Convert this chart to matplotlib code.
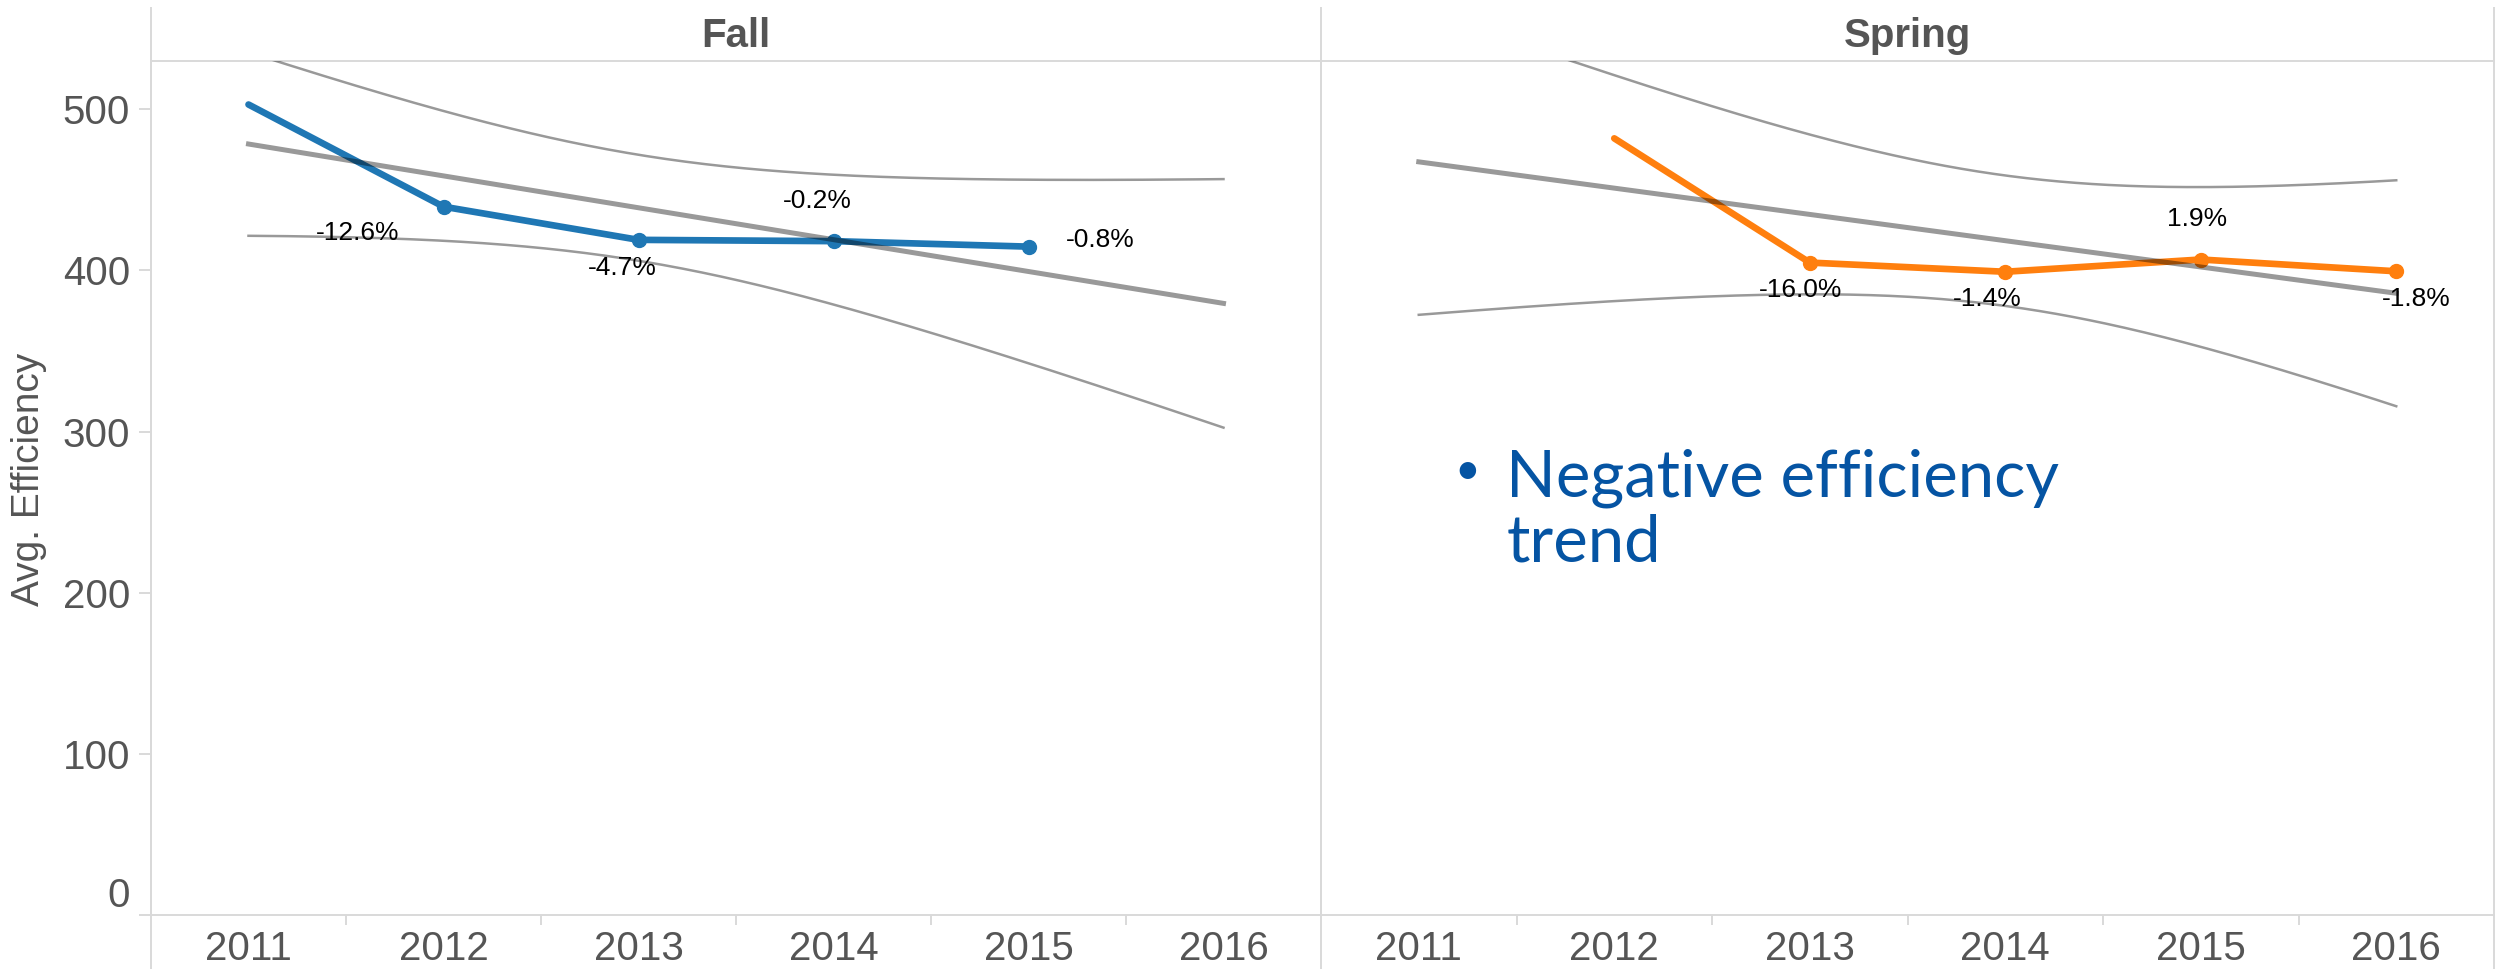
import numpy as np
import matplotlib
matplotlib.use("Agg")
import matplotlib.pyplot as plt
from matplotlib.lines import Line2D

plt.rcParams['font.family'] = ['Liberation Sans', 'DejaVu Sans']

# data
years = [2011, 2012, 2013, 2014, 2015, 2016]
fall_years = [2011, 2012, 2013, 2014, 2015]
fall_eff = [503.0, 439.6, 419.0, 418.2, 414.8]
fall_pct = ['', '-12.6%', '-4.7%', '-0.2%', '-0.8%']
spring_years = [2012, 2013, 2014, 2015, 2016]
spring_eff = [482.0, 404.9, 399.2, 406.8, 399.5]
spring_pct = ['', '-16.0%', '-1.4%', '1.9%', '-1.8%']
yticks = [0, 100, 200, 300, 400, 500]

# label placement (offset points, alignment)
fall_lab = [None, (-62, -19, 'center'), (-11.5, -20, 'center'), (-11.5, 29, 'center'), (27, 5, 'left')]
spring_lab = [None, (-6.5, -20, 'center'), (-13, -19.5, 'center'), (-3, 29.5, 'center'), (14.5, -20, 'center')]

GRID = '#d9d9d9'
TXT = '#555555'
W, H = 2501, 969


def trend_band(x, y, xs, t=3.182):
    # linear trend with 95% confidence band of the mean (n=5 -> df=3)
    x = np.asarray(x, float)
    y = np.asarray(y, float)
    xm = x.mean()
    b, a = np.polyfit(x - xm, y, 1)
    fit = a + b * (xs - xm)
    resid = y - (a + b * (x - xm))
    s = np.sqrt(np.sum(resid ** 2) / (len(x) - 2))
    se = s * np.sqrt(1 / len(x) + (xs - xm) ** 2 / np.sum((x - xm) ** 2))
    return fit, fit - t * se, fit + t * se


fig = plt.figure(figsize=(W / 100, H / 100), dpi=100)
ax1 = fig.add_axes([151 / W, 54 / H, 1170 / W, 854 / H])
ax2 = fig.add_axes([1321 / W, 54 / H, 1173 / W, 854 / H], sharey=ax1)

xs = np.linspace(years[0], years[-1], 300)
panels = [
    (ax1, 'Fall', fall_years, fall_eff, fall_pct, fall_lab, '#1f77b4'),
    (ax2, 'Spring', spring_years, spring_eff, spring_pct, spring_lab, '#ff7f0e'),
]

for ax, name, yrs, vals, pct, lab, col in panels:
    fit, lo, hi = trend_band(yrs, vals, xs)
    ax.plot(yrs, vals, color=col, lw=4.8, solid_capstyle='round', zorder=2)
    ax.plot(yrs[1:], vals[1:], 'o', ms=10, color=col, zorder=2)
    ax.plot(xs, lo, color='black', alpha=0.4, lw=1.8, zorder=3)
    ax.plot(xs, hi, color='black', alpha=0.4, lw=1.8, zorder=3)
    ax.plot(xs, fit, color='black', alpha=0.4, lw=3.6, zorder=4)
    for xv, yv, t, l in zip(yrs, vals, pct, lab):
        if l is None:
            continue
        ax.annotate(t, (xv, yv), xytext=(l[0], l[1]), textcoords='offset points',
                    ha=l[2], va='center', fontsize=19, color='black', zorder=6)

    ax.set_xlim(years[0] - 0.5, years[-1] + 0.5)
    ax.set_xticks(years)
    ax.set_xticklabels([str(y) for y in years])
    ax.set_xticks([y + 0.5 for y in years[:-1]], minor=True)
    ax.tick_params(axis='x', which='major', length=0, labelsize=29, labelcolor=TXT, pad=11)
    ax.tick_params(axis='x', which='minor', length=7, width=1.4, color=GRID)
    ax.set_title(name, fontsize=29, fontweight='bold', color=TXT, pad=10)
    for sp in ['top', 'bottom', 'left']:
        ax.spines[sp].set_color(GRID)
        ax.spines[sp].set_linewidth(1.4)
    ax.spines['right'].set_visible(False)

ax1.set_ylim(0, 530)
ax1.set_yticks(yticks)
ax1.tick_params(axis='y', length=8.6, width=1.4, color=GRID, labelsize=29, labelcolor=TXT, pad=6.5)
ax1.get_yticklabels()[0].set_va('bottom')
ax1.set_ylabel('Avg. Efficiency', fontsize=28, color=TXT)
ax1.yaxis.set_label_coords(-0.089, 0.51)
ax2.tick_params(axis='y', left=False, labelleft=False)

# panel dividers run the full height like the header/axis frame
for xpix in [151, 1321, 2494]:
    fig.add_artist(Line2D([xpix / W, xpix / W], [0, (H - 8) / H], color=GRID, lw=1.4))

ax2.text(0.1134, 0.5047, '\u2022', transform=ax2.transAxes, fontsize=32,
         family=['Lato', 'DejaVu Sans'], color='#0554a3', va='baseline', ha='left')
ax2.text(0.158, 0.4145, 'Negative efficiency\ntrend', transform=ax2.transAxes, fontsize=47,
         family=['Lato', 'DejaVu Sans'], color='#0554a3', va='baseline', ha='left',
         linespacing=1.1)

fig.savefig('out.png', dpi=100)
